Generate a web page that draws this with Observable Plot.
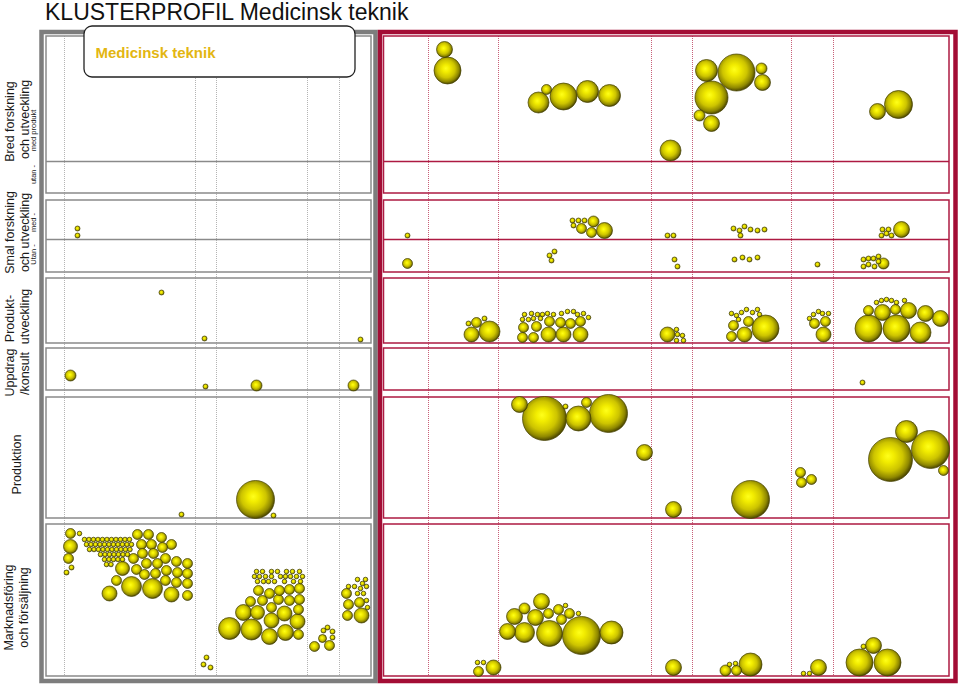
<!DOCTYPE html>
<html><head><meta charset="utf-8">
<script src="https://cdn.jsdelivr.net/npm/d3@7"></script>
<script src="https://cdn.jsdelivr.net/npm/@observablehq/plot@0.6"></script>
<style>
body{margin:0;background:#fff;font-family:"Liberation Sans",Arial,sans-serif;}
#title{height:24px;line-height:24px;font-size:23px;padding-left:45px;color:#111;white-space:nowrap;}
</style></head><body>
<div id="title">KLUSTERPROFIL Medicinsk teknik</div>
<div id="chart"></div>
<script>
// ---------- data ----------
const legendLabel = "Medicinsk teknik";
const rowLabels = [
  {text:"Bred forskning", x:9, y:121, size:12.5},
  {text:"och utveckling", x:24, y:119, size:12.5},
  {text:"med produkt", x:33.5, y:130, size:7.5},
  {text:"utan -", x:33.5, y:174, size:7.5},
  {text:"Smal forskning", x:9, y:232, size:12.5},
  {text:"och utveckling", x:24, y:232, size:12.5},
  {text:"med -", x:33.5, y:222, size:7.5},
  {text:"Utan -", x:33.5, y:254, size:7.5},
  {text:"Produkt-", x:9, y:318, size:12.5},
  {text:"utveckling", x:24, y:316, size:12.5},
  {text:"Uppdrag", x:9, y:372, size:12.5},
  {text:"/konsult", x:24, y:373, size:12.5},
  {text:"Produktion", x:16, y:464, size:12.5},
  {text:"Marknadsföring", x:8, y:607, size:12.5},
  {text:"och försäljning", x:23, y:607, size:12.5}
];
// row bands (top, bottom) and sub-row dividers
const rowTop    = [36, 200, 278, 348, 397, 524];
const rowBottom = [193, 272, 343, 390, 518, 676];
const subDividers = [161, 239];
// column separators
const leftCols  = [64, 195, 216, 307, 339];
const rightCols = [428, 498, 651, 692, 791, 833];

// bubbles: [x, y, radius]
const smalLeft = [[77,228,2.5],[77,235,2.5]];
const produktLeft = [[161,292,2.5],[204,338,2.5],[360,339,2.5]];
const uppdragLeft = [[70,375,5.5],[205,386,2.5],[256,385,5.5],[353,385,5.5]];
const produktionLeft = [[181,514,2.5],[255,499,19],[273,515,2.5]];
const marknadLeftA = [
  [70,533,5],[79,533,2.3],[70,546,7],[68,558,5],[71,567,2.5],[66,572,2.5],
  [137,534,5],[148,534,5],[161,537,5],[171,544,5],[141,544,5],[151,544,5],[162,547,5],[142,553,5],[153,553,5],
  [133,558,5],[165,558,5],[176,561,5],[187,563,5],[146,563,5],[157,563,5],[122,568,7],[136,569,5],[166,570,5],
  [177,572,5],[187,573,5],[144,574,5],[155,573,5],[116,580,5],[165,580,5],[176,582,5],[187,583,5],
  [131,586,10],[152,588,10],[109,593,7.5],[171,594,7.5],[187,595,5]
];
const marknadLeftSmall = [
  [84,539],[88.5,539],[93,539],[97.5,539],[102,539],[106.5,539],[111,539],[115.5,539],[120,539],[124.5,539],[129,539],
  [86,544],[90.5,544],[95,544],[99.5,544],[104,544],[108.5,544],[113,544],[117.5,544],[122,544],[126.5,544],[131,544],
  [89,549],[93.5,549],[98,549],[102.5,549],[107,549],[111.5,549],[116,549],[120.5,549],[125,549],[129.5,549],
  [100,554],[104.5,554],[109,554],[113.5,554],[118,554],[122.5,554],[127,554],
  [104,559],[108.5,559],[113,559],[117.5,559],[122,559],
  [106,564],[110.5,564]
];
const marknadLeftB = [
  [206,657,2.5],[203,664,2.5],[210,667,2.5],
  [229,628,11],[251,629,10.5],[269,636,8],[285,632,8],[298,634,5],
  [243,612,8],[257,612,7],[271,620,7.5],[284,613,7.5],[297,621,7.5],
  [250,601,5],[262,600,5],[271,607,5],[278,599,5],[289,600,5],[299,599,5],[298,609,5],
  [258,590,5],[269,593,5],[279,590,5],[289,589,5],[299,588,5],
  [256,571,2.3],[262,571,2.3],[271,571,2.3],[277,571,2.3],[286,571,2.3],[292,571,2.3],[299,571,2.3],
  [254,576,2.3],[259,576,2.3],[265,576,2.3],[271,576,2.3],[280,576,2.3],[285,576,2.3],[290,576,2.3],[296,576,2.3],[302,576,2.3],
  [257,581,2.3],[263,581,2.3],[268,581,2.3],[274,581,2.3],[284,581,2.3],[293,581,2.3],[300,581,2.3]
];
const marknadLeftC = [
  [314,646,5],[329,645,5],[322,638,4],[327,627,2.5],[332,631,2.5],[332,637,2.5],[323,630,2.5],
  [347,615,5],[361,615,7.5],[348,604,5],[359,602,5],[346,593,5],
  [348,586,2.3],[354,586,2.3],[362,583,2.3],[357,579,2.3],[365,579,2.3],[357,593,2.3],[363,593,2.3],
  [366,586,2.3],[366,600,2.3],[367,607,2.3],[360,588,2.3]
];
const bredRight = [
  [444,49,8],[447,70,13.5],[538,102,10.5],[546,89,5],[563,96,13.5],[587,91,11],[609,95,11],[670,150,10.5],
  [706,70,11],[736,72,18.5],[711,97,16.5],[761,68,5.5],[762,82,8],[699,115,5.5],[711,123,8],[877,111,8],[898,104,14]
];
const smalRight = [
  [407,235,2.5],[407,263,5],[572,220,2.5],[578,220,2.5],[584,220,2.5],[573,225,2.5],[581,228,5],[593,221,5.5],
  [591,232,5],[604,230,8],[554,251,2.5],[549,255,2.5],[551,260,2.5],[667,235,2.5],[673,235,2.5],[674,259,2.5],
  [677,266,2.5],[733,228,2.5],[739,230,2.5],[744,226,2.5],[750,229,2.5],[757,230,2.5],[764,229,2.5],[740,235,2.5],
  [734,259,2.5],[742,257,2.5],[749,259,2.5],[757,257,2.5],[817,264,2.5],[882,229,2.5],[888,229,2.5],[881,235,2.5],
  [886,233,2.5],[891,235,2.5],[901,229,8],[863,259,2.5],[868,258,2.5],[873,258,2.5],[878,256,2.5],[863,266,2.5],
  [868,264,2.5],[874,266,2.5],[878,261,2.5],[883,263,5.5]
];
const produktRight = [
  [471,334,7.5],[489,331,10.5],[476,322,5],[484,318,2.5],[468,323,2.5],
  [522,337,5],[533,337,5],[548,334,7.5],[563,334,7.5],[580,334,7.5],[523,327,5],[536,326,5],[549,321,5],
  [560,322,5],[570,323,5],[580,321,5],
  [524,314,2.3],[531,313,2.3],[537,314,2.3],[542,314,2.3],[547,313,2.3],[553,314,2.3],[561,313,2.3],[567,311,2.3],
  [573,311,2.3],[577,314,2.3],[583,313,2.3],[588,317,2.3],[522,319,2.3],[528,319,2.3],[533,318,2.3],[540,318,2.3],
  [667,334,7.5],[676,329,2.3],[677,334,2.3],[682,335,2.3],[683,340,2.3],[676,340,2.3],
  [731,336,5],[744,334,7.5],[765,328,13.5],[733,325,5],[748,321,5],
  [731,313,2.3],[736,315,2.3],[741,312,2.3],[746,309,2.3],[752,312,2.3],[757,309,2.3],[759,314,2.3],[738,319,2.3],
  [823,334,7.5],[814,323,5],[825,321,5],[809,318,2.3],[813,314,2.3],[818,311,2.3],[822,313,2.3],[828,313,2.3],
  [868,328,13.5],[896,328,13.5],[920,332,10.5],[940,318,8],[925,313,8],[908,310,8],[882,312,8],[868,310,5],[895,309,5],
  [876,302,2.3],[881,300,2.3],[886,299,2.3],[891,300,2.3],[896,302,2.3],[904,300,2.3]
];
const uppdragRight = [[862,382,2.5]];
const produktionRight = [
  [519,404,8],[544,418,22],[565,406,2.5],[586,402,5],[578,418,12.5],[608,413,19],[644,452,8],[673,509,8],
  [750,499,19],[800,472,5],[801,482,5],[811,479,5],[890,459,22],[906,431,11],[930,449,19],[943,470,5]
];
const marknadRight = [
  [478,671,5],[493,667,7.5],[477,662,2.3],[483,662,2.3],
  [507,631,8],[524,632,10],[549,633,13],[581,635,19],[611,632,11.5],
  [514,616,8],[535,617,8],[541,601,8],[524,608,5.5],[548,613,5],[558,609,5],[561,619,5],[569,613,5],[565,605,2.3],[578,613,2.3],
  [673,667,8],[725,670,5.5],[736,670,5],[729,664,2.3],[735,663,2.3],[750,664,11.5],
  [803,673,2.3],[809,673,2.3],[818,667,8],
  [859,662,13.5],[887,662,13.5],[873,645,8],[863,646,2.5]
];

// ---------- build ----------
const rows = rowTop.map((t,i)=>({top:t, bottom:rowBottom[i]}));
const smallR = 2.3;
const bubbles = [
  ...smalLeft, ...produktLeft, ...uppdragLeft, ...produktionLeft, ...marknadLeftA,
  ...marknadLeftSmall.map(d=>[d[0], d[1], smallR]), ...marknadLeftB, ...marknadLeftC,
  ...bredRight, ...smalRight, ...produktRight, ...uppdragRight, ...produktionRight, ...marknadRight
];

const TOP = 24, H = 685 - TOP;
const leftPanel  = {x1:46, x2:371, ox1:41.5, ox2:375.5, stroke:"#8a8a8a", outer:"#7d7d7d", grid:"#b4b4b4"};
const rightPanel = {x1:383.5, x2:949, ox1:380, ox2:955.5, stroke:"#ad1a42", outer:"#a30d35", grid:"#c86078"};

const marks = [];
for (const p of [leftPanel, rightPanel]) {
  const cols = p === leftPanel ? leftCols : rightCols;
  marks.push(Plot.ruleX(cols, {y1:36, y2:676, stroke:p.grid, strokeWidth:1, strokeDasharray:"1,1"}));
  marks.push(Plot.rect(rows, {x1:p.x1, x2:p.x2, y1:"top", y2:"bottom", fill:"none", stroke:p.stroke, strokeWidth:1.5}));
  marks.push(Plot.ruleY(subDividers, {x1:p.x1, x2:p.x2, stroke:p.stroke, strokeWidth:1.5}));
  marks.push(Plot.rect([0], {x1:p.ox1, x2:p.ox2, y1:32, y2:681, fill:"none", stroke:p.outer, strokeWidth:4.5}));
}
marks.push(Plot.dot(bubbles, {x:d=>d[0], y:d=>d[1], r:d=>d[2], fill:"url(#ball)", stroke:"#454000", strokeWidth:0.7}));
marks.push(Plot.text(rowLabels, {x:"x", y:"y", text:"text", fontSize:d=>d.size, rotate:-90, fill:"#1a1a1a", textAnchor:"middle"}));
marks.push(Plot.rect([legendLabel], {x1:84, x2:355, y1:26, y2:77, rx:8, fill:"white", stroke:"#222", strokeWidth:1.3}));
marks.push(Plot.text([legendLabel], {x:95, y:57, text:d=>d, textAnchor:"start", lineAnchor:"bottom", fill:"#e3b612", fontWeight:"bold", fontSize:15}));

const plot = Plot.plot({
  width:960, height:H, margin:0,
  x:{domain:[0,960], range:[0,960], axis:null},
  y:{domain:[TOP,685], range:[0,H], axis:null},
  r:{type:"identity"},
  style:{fontFamily:"'Liberation Sans', Arial, sans-serif", background:"white", overflow:"visible"},
  marks
});

const svg = d3.select(plot);
const grad = svg.insert("defs", ":first-child").append("radialGradient")
  .attr("id","ball").attr("cx","46%").attr("cy","45%").attr("r","55%").attr("fx","44%").attr("fy","42%");
[["0%","#ffff1a"],["25%","#f2ec00"],["60%","#cdc400"],["85%","#8f8800"],["100%","#4d4800"]].forEach(([o,c])=>
  grad.append("stop").attr("offset",o).attr("stop-color",c));
document.getElementById("chart").appendChild(plot);
</script></body></html>
